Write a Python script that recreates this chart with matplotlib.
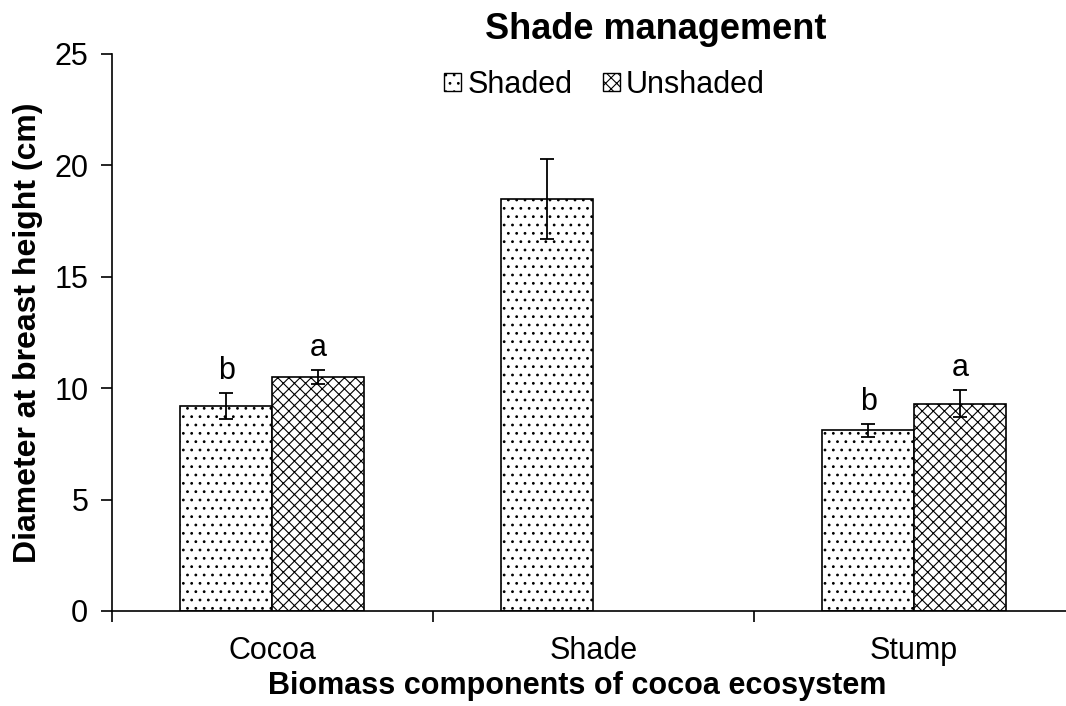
import numpy as np
import matplotlib.pyplot as plt
from matplotlib.patches import Patch

plt.rcParams['font.family'] = ['Liberation Sans', 'DejaVu Sans']
plt.rcParams['hatch.linewidth'] = 0.8

categories = ['Cocoa', 'Shade', 'Stump']
shaded = [9.2, 18.5, 8.1]
shaded_err = [0.6, 1.8, 0.3]
unshaded = [10.5, np.nan, 9.3]
unshaded_err = [0.3, np.nan, 0.6]
shaded_letters = ['b', '', 'b']
unshaded_letters = ['a', '', 'a']

fig = plt.figure(figsize=(10.66, 7.06), dpi=100)
ax = fig.add_axes([0.105, 0.1346, 0.903, 0.789])

x = np.arange(len(categories))
w = 0.287

ax.bar(x - w / 2, shaded, w, color='white', edgecolor='black', hatch='..', linewidth=1.2)
ax.bar(x + w / 2, unshaded, w, color='white', edgecolor='black', hatch='xxx', linewidth=1.2)
ax.errorbar(x - w / 2, shaded, yerr=shaded_err, fmt='none', ecolor='black', elinewidth=1.3, capsize=5, capthick=1.3)
ax.errorbar(x + w / 2, unshaded, yerr=unshaded_err, fmt='none', ecolor='black', elinewidth=1.3, capsize=5, capthick=1.3)

for xi, v, e, t in zip(x - w / 2, shaded, shaded_err, shaded_letters):
    if t:
        ax.annotate(t, (xi, v + e), xytext=(0, 5), textcoords='offset points', ha='center', va='bottom', fontsize=22)
for xi, v, e, t in zip(x + w / 2, unshaded, unshaded_err, unshaded_letters):
    if t:
        ax.annotate(t, (xi, v + e), xytext=(0, 5), textcoords='offset points', ha='center', va='bottom', fontsize=22)

ax.set_xlim(-0.5, 2.5)
ax.set_ylim(0, 25)
ax.set_yticks(range(0, 26, 5))
ax.set_xticks([-0.5, 0.5, 1.5])
ax.set_xticklabels([])
ax.set_xticks(x, minor=True)
ax.set_xticklabels(categories, minor=True, fontsize=22)
ax.tick_params(axis='x', which='major', length=8, width=1.2, direction='out')
ax.tick_params(axis='x', which='minor', length=0, pad=18)
ax.tick_params(axis='y', length=8, width=1.2, labelsize=22, pad=9)
for s in ['top', 'right']:
    ax.spines[s].set_visible(False)
for s in ['left', 'bottom']:
    ax.spines[s].set_linewidth(1.2)

ax.set_ylabel('Diameter at breast height (cm)', fontsize=23, fontweight='bold', labelpad=8)
ax.set_xlabel('Biomass components of cocoa ecosystem', fontsize=22, fontweight='bold')
ax.xaxis.set_label_coords(0.483, -0.107)
fig.text(0.615, 0.958, 'Shade management', ha='center', va='center', fontsize=26, fontweight='bold')

handles = [Patch(facecolor='white', edgecolor='black', hatch='..'),
           Patch(facecolor='white', edgecolor='black', hatch='xxx')]
fig.legend(handles, ['Shaded', 'Unshaded'], loc='center', bbox_to_anchor=(0.567, 0.88), ncol=2,
           frameon=False, fontsize=22, handlelength=0.55, handleheight=0.55, handletextpad=0.2, columnspacing=1.0)

fig.savefig('out.png', dpi=100)
